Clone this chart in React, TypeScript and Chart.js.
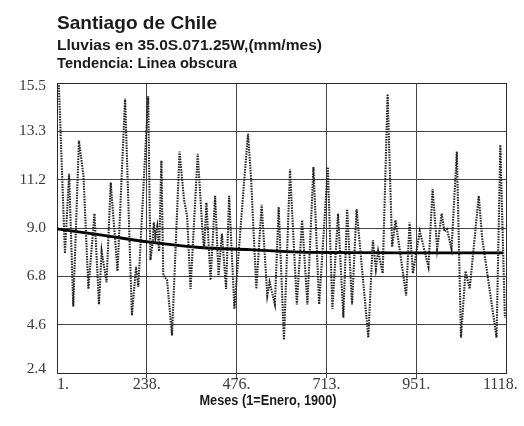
import { useEffect, useRef } from "react";
import { Chart, registerables } from "chart.js";

Chart.register(...registerables);

// Monthly index (1 = January 1900) of each vertex of the rainfall curve
const MONTHS = [
  6, 22, 33, 44, 59, 71, 84, 100, 112, 119, 132, 143, 161, 181, 199, 210, 216,
  242, 248, 254, 257, 261, 266, 271, 277, 282, 292, 305, 325, 337, 345, 354,
  373, 386, 390, 396, 407, 419, 428, 437, 448, 456, 470, 495, 506, 514, 528,
  542, 557, 563, 577, 587, 601, 617, 635, 649, 663, 679, 694, 717, 729, 744,
  758, 768, 781, 793, 824, 836, 844, 850, 862, 875, 887, 896, 924, 933, 942,
  960, 983, 994, 1006, 1018, 1025, 1032, 1044, 1058, 1069, 1081, 1092, 1116,
  1125, 1163, 1173, 1185,
];

// Rainfall (mm/mes)
const RAIN = [
  15.4, 7.8, 11.4, 5.4, 12.9, 11.3, 6.2, 9.6, 5.5, 7.9, 6.5, 11.0, 7.0, 14.8,
  5.0, 7.2, 6.3, 14.9, 7.5, 8.3, 9.2, 8.5, 9.0, 7.9, 12.0, 6.8, 6.6, 4.1, 12.4,
  10.2, 9.5, 6.2, 12.3, 8.7, 8.0, 10.1, 6.6, 10.4, 6.8, 8.7, 6.2, 10.4, 5.3,
  10.9, 13.2, 11.2, 6.2, 10.0, 5.9, 6.5, 5.5, 9.9, 3.9, 11.6, 5.5, 9.3, 5.5,
  11.7, 5.5, 11.7, 5.3, 9.6, 4.9, 9.8, 5.5, 9.8, 4.0, 8.4, 7.1, 7.9, 6.9, 15.0,
  8.1, 9.3, 5.9, 9.2, 6.9, 8.8, 7.2, 10.7, 8.0, 9.6, 8.8, 8.9, 8.0, 12.4, 4.0,
  7.0, 6.2, 10.4, 8.5, 4.0, 12.7, 4.9,
];

// Trend curve (dark line)
const TREND_MONTHS = [1, 115, 247, 379, 511, 643, 776, 908, 1040, 1180];
const TREND = [8.91, 8.64, 8.31, 8.07, 7.97, 7.86, 7.84, 7.83, 7.83, 7.83];

const X_TICK_LABELS = ["1.", "238.", "476.", "713.", "951.", "1118."];
const Y_TICK_LABELS = ["2.4", "4.6", "6.8", "9.0", "11.2", "13.3", "15.5"];
const X_MIN = 1;
const X_MAX = 1188;
const Y_MIN = 2.4;
const Y_MAX = 15.5;

const TITLE = "Santiago de Chile";
const SUBTITLE_1 = "Lluvias en 35.0S.071.25W,(mm/mes)";
const SUBTITLE_2 = "Tendencia: Linea obscura";
const X_TITLE = "Meses (1=Enero, 1900)";

const TEXT_FONT = '"Liberation Sans", Arial, sans-serif';
const TICK_FONT = '"Liberation Serif", "Times New Roman", serif';

// Draw text squeezed horizontally to a given width (condensed face look)
function drawCondensed(
  ctx: CanvasRenderingContext2D,
  text: string,
  x: number,
  y: number,
  width: number,
  font: string,
  align: CanvasTextAlign
) {
  ctx.save();
  ctx.font = font;
  const w = ctx.measureText(text).width;
  ctx.translate(x, y);
  ctx.scale(width / w, 1);
  ctx.textAlign = align;
  ctx.textBaseline = "alphabetic";
  ctx.fillStyle = "#1b1b1b";
  ctx.fillText(text, 0, 0);
  ctx.restore();
}

const framePlugin = {
  id: "frameAndText",
  beforeDatasetsDraw(chart: any) {
    const { ctx, chartArea } = chart;
    ctx.save();
    ctx.strokeStyle = "#2a2a2a";
    ctx.lineWidth = 1;
    ctx.strokeRect(
      Math.round(chartArea.left) + 0.5,
      Math.round(chartArea.top) + 0.5,
      Math.round(chartArea.right - chartArea.left),
      Math.round(chartArea.bottom - chartArea.top)
    );
    ctx.restore();
  },
  afterDraw(chart: any) {
    const { ctx, chartArea } = chart;
    const left = chartArea.left;
    drawCondensed(ctx, TITLE, left, 28.5, 160, `bold 19px ${TEXT_FONT}`, "left");
    drawCondensed(ctx, SUBTITLE_1, left, 50, 265, `bold 14.5px ${TEXT_FONT}`, "left");
    drawCondensed(ctx, SUBTITLE_2, left, 68.3, 180, `bold 14.5px ${TEXT_FONT}`, "left");
    drawCondensed(ctx, X_TITLE, 268, 404.5, 137, `bold 14px ${TEXT_FONT}`, "center");
  },
};

export default function App() {
  const canvasRef = useRef<HTMLCanvasElement | null>(null);

  useEffect(() => {
    if (!canvasRef.current) return;
    const xStep = (X_MAX - X_MIN) / (X_TICK_LABELS.length - 1);
    const yStep = (Y_MAX - Y_MIN) / (Y_TICK_LABELS.length - 1);
    const lastX = X_TICK_LABELS.length - 1;
    const lastY = Y_TICK_LABELS.length - 1;

    const chart = new Chart(canvasRef.current, {
      type: "line",
      data: {
        datasets: [
          {
            data: MONTHS.map((m, i) => ({ x: m, y: RAIN[i] })),
            borderColor: "#222222",
            borderWidth: 2.1,
            borderDash: [1.5, 1.1],
            pointRadius: 0,
            tension: 0,
          },
          {
            data: TREND_MONTHS.map((m, i) => ({ x: m, y: TREND[i] })),
            borderColor: "#000000",
            borderWidth: 2.8,
            pointRadius: 0,
            cubicInterpolationMode: "monotone",
          },
        ],
      },
      options: {
        responsive: false,
        animation: false,
        events: [],
        layout: { padding: { top: 83, right: 18, bottom: 0, left: 0 } },
        plugins: {
          legend: { display: false },
          tooltip: { enabled: false },
          title: { display: false },
        },
        scales: {
          x: {
            type: "linear",
            min: X_MIN,
            max: X_MAX,
            afterBuildTicks: (scale: any) => {
              // end labels sit slightly inside the frame
              scale.ticks = X_TICK_LABELS.map((_, i) => {
                let v = X_MIN + i * xStep;
                if (i === 0) v += 16;
                if (i === lastX) v -= 15;
                return { value: v };
              });
            },
            afterFit: (scale: any) => {
              scale.height = 53;
              scale.paddingLeft = 0;
              scale.paddingRight = 0;
            },
            grid: {
              color: (c: any) =>
                c.index === 0 || c.index === lastX ? "rgba(0,0,0,0)" : "#444444",
              lineWidth: 1,
              drawTicks: true,
              tickLength: 5,
            },
            border: { display: false },
            ticks: {
              autoSkip: false,
              maxRotation: 0,
              padding: -3,
              color: "#3a3a3a",
              font: { family: TICK_FONT, size: 16 },
              callback: (_v: any, i: number) => X_TICK_LABELS[i],
            },
          },
          y: {
            type: "linear",
            min: Y_MIN,
            max: Y_MAX,
            afterBuildTicks: (scale: any) => {
              scale.ticks = Y_TICK_LABELS.map((_, i) => {
                let v = Y_MIN + i * yStep;
                if (i === 0) v += 0.19;
                if (i === lastY) v -= 0.14;
                return { value: v };
              });
            },
            afterFit: (scale: any) => {
              scale.width = 57;
            },
            grid: {
              color: (c: any) =>
                c.index === 0 || c.index === lastY ? "rgba(0,0,0,0)" : "#444444",
              lineWidth: 1,
              drawTicks: false,
            },
            border: { display: false },
            ticks: {
              autoSkip: false,
              padding: 11,
              color: "#3a3a3a",
              font: { family: TICK_FONT, size: 15.5 },
              callback: (_v: any, i: number) => Y_TICK_LABELS[i],
            },
          },
        },
      },
      plugins: [framePlugin],
    } as any);

    return () => chart.destroy();
  }, []);

  return (
    <div
      style={{
        position: "absolute",
        left: 0,
        top: 0,
        width: 524,
        height: 426,
        background: "#ffffff",
      }}
    >
      <canvas ref={canvasRef} width={524} height={426} />
    </div>
  );
}
